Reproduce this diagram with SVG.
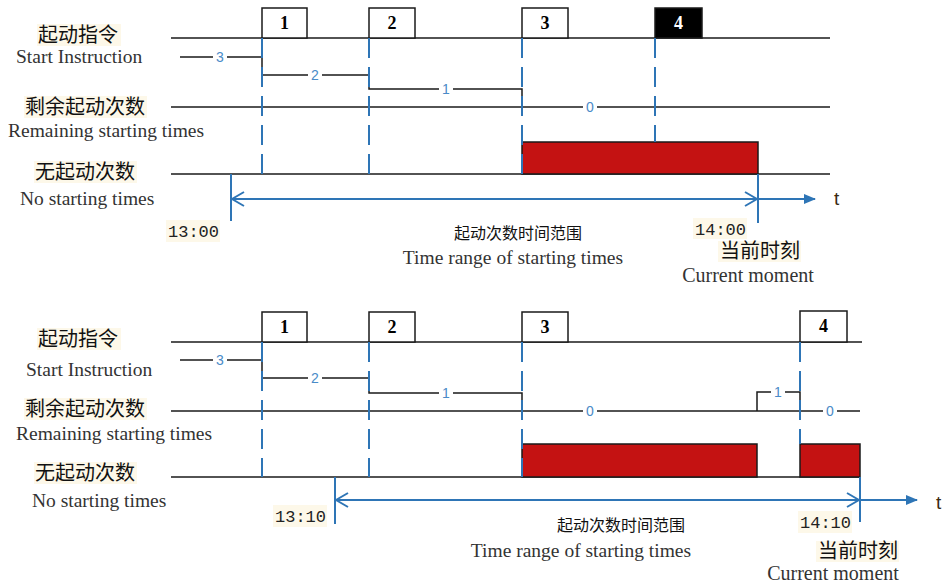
<svg xmlns="http://www.w3.org/2000/svg" width="946" height="583" viewBox="0 0 946 583">
<style>
.bg{fill:#ffffff}
.ln{stroke:#1a1a1a;stroke-width:1.5;fill:none}
.box{fill:#ffffff;stroke:#1a1a1a;stroke-width:1.5}
.boxk{fill:#000000;stroke:#1a1a1a;stroke-width:1.5}
.bn{font-family:"Liberation Serif",serif;font-weight:bold;font-size:18px;text-anchor:middle;fill:#000}
.bnw{font-family:"Liberation Serif",serif;font-weight:bold;font-size:18px;text-anchor:middle;fill:#fff}
.red{fill:#c41212;stroke:#1a1a1a;stroke-width:1.5}
.dash{stroke:#2e75b6;stroke-width:2;stroke-dasharray:20 9;fill:none}
.blue{stroke:#2e75b6;stroke-width:2;fill:none}
.cn{font-family:"Noto Sans CJK SC",sans-serif;font-size:20px;fill:#111}
.cnbg{fill:#fdf8e9}
.en{font-family:"Liberation Serif",serif;font-size:19.5px;fill:#333}
.cns{font-family:"Noto Sans CJK SC",sans-serif;font-size:16px;fill:#111;text-anchor:middle}
.tm{font-family:"Liberation Mono",monospace;font-size:17px;fill:#222}
.lab{font-family:"Liberation Sans",sans-serif;font-size:14px;fill:#4a8bc8;text-anchor:middle}
.tt{font-family:"Liberation Sans",sans-serif;font-size:19px;fill:#3a2a10}
</style>
<defs>
<marker id="chev" viewBox="0 0 14 16" refX="13" refY="8" markerWidth="14" markerHeight="16" markerUnits="userSpaceOnUse" orient="auto-start-reverse">
<path d="M1,1 L13,8 L1,15" fill="none" stroke="#2e75b6" stroke-width="2"/>
</marker>
<marker id="tri" viewBox="0 0 12 10" refX="11" refY="5" markerWidth="12" markerHeight="10" markerUnits="userSpaceOnUse" orient="auto">
<path d="M0,0 L12,5 L0,10 Z" fill="#2e75b6"/>
</marker>
</defs>
<rect class="bg" x="0" y="0" width="946" height="583"/>

<!-- ===== TOP DIAGRAM ===== -->
<g id="top-labels">
<rect class="cnbg" x="37" y="24" width="84" height="22"/>
<text class="cn" x="38" y="42">起动指令</text>
<text class="en" x="16" y="63">Start Instruction</text>
<rect class="cnbg" x="24" y="96" width="123" height="22"/>
<text class="cn" x="25" y="114">剩余起动次数</text>
<text class="en" x="8" y="137">Remaining starting times</text>
<rect class="cnbg" x="34" y="161" width="103" height="22"/>
<text class="cn" x="35" y="179">无起动次数</text>
<text class="en" x="20" y="205">No starting times</text>
</g>

<g id="top-signal-lines">
<line class="ln" x1="171" y1="38" x2="830" y2="38"/>
<line class="ln" x1="171" y1="107" x2="830" y2="107"/>
<line class="ln" x1="171" y1="174" x2="830" y2="174"/>
<polyline class="ln" points="180,57 262,57 262,75 369,75 369,89 522,89 522,107"/>
</g>

<g id="top-box-1"><rect class="box" x="262" y="8" width="45" height="30"/><text class="bn" x="284.5" y="29">1</text></g>
<g id="top-box-2"><rect class="box" x="369" y="8" width="46" height="30"/><text class="bn" x="392" y="29">2</text></g>
<g id="top-box-3"><rect class="box" x="522" y="8" width="46" height="30"/><text class="bn" x="545" y="29">3</text></g>
<g id="top-box-4"><rect class="boxk" x="655" y="8" width="47" height="30"/><text class="bnw" x="678.5" y="29">4</text></g>

<g id="top-no-start-bar"><rect class="red" x="522" y="142" width="236" height="32"/></g>

<g id="top-counts">
<rect x="213" y="49" width="14" height="16" fill="#fff"/><text class="lab" x="220" y="62">3</text>
<rect x="308" y="67" width="14" height="16" fill="#fff"/><text class="lab" x="315" y="80">2</text>
<rect x="439" y="81" width="14" height="16" fill="#fff"/><text class="lab" x="446" y="94">1</text>
<rect x="583" y="99" width="14" height="16" fill="#fff"/><text class="lab" x="590" y="112">0</text>
</g>

<g id="top-connectors">
<line class="dash" x1="262" y1="38" x2="262" y2="174"/>
<line class="dash" x1="369" y1="38" x2="369" y2="174"/>
<line class="dash" x1="522" y1="38" x2="522" y2="174"/>
<line class="dash" x1="655" y1="38" x2="655" y2="142"/>
<line class="blue" x1="231" y1="174" x2="231" y2="221"/>
<line class="blue" x1="758" y1="174" x2="758" y2="223"/>
<line class="blue" x1="232" y1="199" x2="757" y2="199" marker-start="url(#chev)" marker-end="url(#chev)"/>
<line class="blue" x1="758" y1="199" x2="815" y2="199" marker-end="url(#tri)"/>
</g>

<g id="top-axis-labels">
<text class="tt" x="834" y="205">t</text>
<rect class="cnbg" x="166" y="220" width="54" height="22"/>
<text class="tm" x="168" y="237">13:00</text>
<rect class="cnbg" x="693" y="218" width="54" height="21"/>
<text class="tm" x="695" y="235">14:00</text>
<text class="cns" x="518" y="239">起动次数时间范围</text>
<text class="en" x="513" y="264" text-anchor="middle">Time range of starting times</text>
<rect class="cnbg" x="718" y="241" width="83" height="21"/>
<text class="cn" x="720" y="258">当前时刻</text>
<text class="en" x="748" y="282" text-anchor="middle" style="font-size:20px">Current moment</text>
</g>

<!-- ===== BOTTOM DIAGRAM ===== -->
<g id="bottom-labels">
<rect class="cnbg" x="37" y="328" width="84" height="22"/>
<text class="cn" x="38" y="346">起动指令</text>
<text class="en" x="26" y="376">Start Instruction</text>
<rect class="cnbg" x="24" y="398" width="123" height="22"/>
<text class="cn" x="25" y="416">剩余起动次数</text>
<text class="en" x="16" y="440">Remaining starting times</text>
<rect class="cnbg" x="34" y="462" width="103" height="22"/>
<text class="cn" x="35" y="480">无起动次数</text>
<text class="en" x="32" y="507">No starting times</text>
</g>

<g id="bottom-signal-lines">
<line class="ln" x1="171" y1="342" x2="862" y2="342"/>
<line class="ln" x1="171" y1="411" x2="860" y2="411"/>
<line class="ln" x1="171" y1="477" x2="860" y2="477"/>
<polyline class="ln" points="180,360 262,360 262,378 369,378 369,393 522,393 522,411"/>
<polyline class="ln" points="757,411 757,392 800,392 800,411"/>
</g>

<g id="bottom-box-1"><rect class="box" x="262" y="312" width="45" height="30"/><text class="bn" x="284.5" y="333">1</text></g>
<g id="bottom-box-2"><rect class="box" x="369" y="312" width="46" height="30"/><text class="bn" x="392" y="333">2</text></g>
<g id="bottom-box-3"><rect class="box" x="522" y="312" width="46" height="30"/><text class="bn" x="545" y="333">3</text></g>
<g id="bottom-box-4"><rect class="box" x="800" y="311" width="47" height="31"/><text class="bn" x="823.5" y="332">4</text></g>

<g id="bottom-no-start-bars">
<rect class="red" x="522" y="444" width="235" height="33"/>
<rect class="red" x="800" y="444" width="60" height="33"/>
</g>

<g id="bottom-counts">
<rect x="213" y="352" width="14" height="16" fill="#fff"/><text class="lab" x="220" y="365">3</text>
<rect x="308" y="370" width="14" height="16" fill="#fff"/><text class="lab" x="315" y="383">2</text>
<rect x="439" y="385" width="14" height="16" fill="#fff"/><text class="lab" x="446" y="398">1</text>
<rect x="583" y="403" width="14" height="16" fill="#fff"/><text class="lab" x="590" y="416">0</text>
<rect x="771" y="384" width="14" height="16" fill="#fff"/><text class="lab" x="778" y="397">1</text>
<rect x="823" y="403" width="14" height="16" fill="#fff"/><text class="lab" x="830" y="416">0</text>
</g>

<g id="bottom-connectors">
<line class="dash" x1="262" y1="342" x2="262" y2="477"/>
<line class="dash" x1="369" y1="342" x2="369" y2="477"/>
<line class="dash" x1="522" y1="342" x2="522" y2="477"/>
<line class="dash" x1="800" y1="342" x2="800" y2="444"/>
<line class="blue" x1="335" y1="477" x2="335" y2="524"/>
<line class="blue" x1="860" y1="477" x2="860" y2="522"/>
<line class="blue" x1="336" y1="500" x2="859" y2="500" marker-start="url(#chev)" marker-end="url(#chev)"/>
<line class="blue" x1="860" y1="500" x2="917" y2="500" marker-end="url(#tri)"/>
</g>

<g id="bottom-axis-labels">
<text class="tt" x="936" y="509">t</text>
<rect class="cnbg" x="273" y="505" width="54" height="22"/>
<text class="tm" x="275" y="522">13:10</text>
<rect class="cnbg" x="798" y="511" width="54" height="22"/>
<text class="tm" x="800" y="528">14:10</text>
<text class="cns" x="621" y="531">起动次数时间范围</text>
<text class="en" x="581" y="557" text-anchor="middle">Time range of starting times</text>
<rect class="cnbg" x="816" y="541" width="83" height="21"/>
<text class="cn" x="818" y="558">当前时刻</text>
<text class="en" x="833" y="580" text-anchor="middle" style="font-size:20px">Current moment</text>
</g>
</svg>
